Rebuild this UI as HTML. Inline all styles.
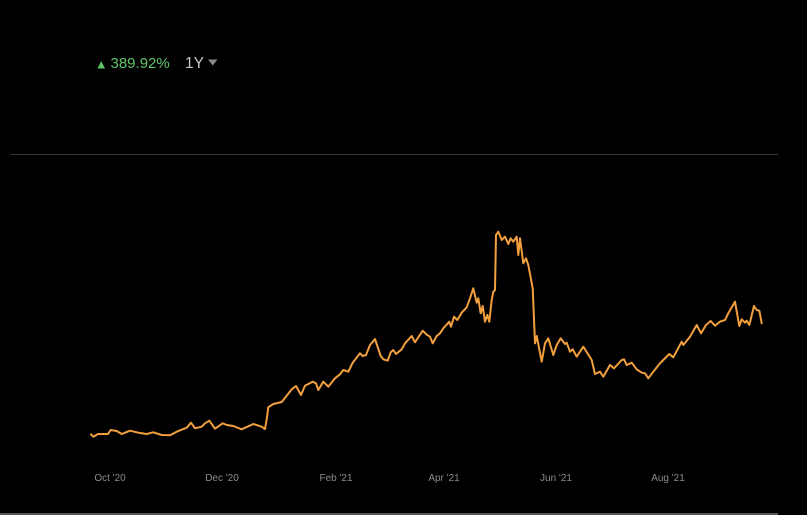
<!DOCTYPE html>
<html>
<head>
<meta charset="utf-8">
<style>
html,body{margin:0;padding:0;background:#000;}
body{width:807px;height:515px;overflow:hidden;position:relative;font-family:"Liberation Sans",sans-serif;}
svg{position:absolute;left:0;top:0;}
</style>
</head>
<body>
<svg width="807" height="515" viewBox="0 0 807 515" xmlns="http://www.w3.org/2000/svg">
  <rect x="0" y="0" width="807" height="515" fill="#000"/>
  <!-- header -->
  <polygon points="97.5,68.5 105,68.5 101.25,61" fill="#5dc466"/>
  <text x="110.5" y="68" font-family="Liberation Sans, sans-serif" font-size="15" fill="#62c46a">389.92%</text>
  <text x="185" y="68" font-family="Liberation Sans, sans-serif" font-size="15.5" fill="#c8c8c8">1Y</text>
  <polygon points="208,59.5 217.5,59.5 212.75,65.5" fill="#8a8a8a"/>
  <!-- separator -->
  <line x1="11" y1="154.5" x2="778" y2="154.5" stroke="#3a3a3a" stroke-width="1"/>
  <!-- bottom line -->
  <line x1="0" y1="514" x2="778" y2="514" stroke="#555" stroke-width="2"/>
  <!-- x labels -->
  <g font-family="Liberation Sans, sans-serif" font-size="10" fill="#8c8c8c" text-anchor="middle">
    <text x="110" y="481">Oct '20</text>
    <text x="222" y="481">Dec '20</text>
    <text x="336" y="481">Feb '21</text>
    <text x="444" y="481">Apr '21</text>
    <text x="556" y="481">Jun '21</text>
    <text x="668" y="481">Aug '21</text>
  </g>
  <!-- series -->
  <polyline fill="none" stroke="#f2a03d" stroke-width="2" stroke-linejoin="round" stroke-linecap="round"
  points="91,434.3 93.3,436.7 98,434 108,434 110.7,430 116.7,431 121.7,434 130,430.7 138.3,432.7 146.7,434 153.3,432.3 161.7,435 170,435.3 176.7,431.7 186.7,427.7 191,422.7 195,428.3 201.7,426.7 205,423.3 209.3,420.7 215,428.7 222.7,423.3 226.7,425 233.3,426 241.7,429.3 253.3,424 261.7,426.7 265,429 266.7,419.3 268.3,407.3 273.3,404 281.7,402 286.7,395.7 291.7,389.3 296,386 301,395 305,385.7 312.7,381.7 316,383.3 318.3,390 323.3,381.7 328.3,386.7 335,378.3 340,374.3 343.3,370 348.3,371.7 352.7,362.7 360,353.3 362.7,356 366,355 370,345 375,339 380.7,356 383.3,359.3 387.7,360.7 390.7,352.3 393.3,350 396,354 401.7,349.3 405,343.3 411.7,336 415,342.3 422.7,330.7 426.7,334.7 430,336.7 432.7,343.3 436.7,336 440,333.3 443.3,328.3 449.3,321.7 451,326.7 454,316.7 457.3,320 461.7,312.7 466.7,307.3 470,298.3 473.3,288.3 476.7,302.7 478.3,298.3 480.7,313.3 482.7,306 485,321.7 487.3,315 489.3,321.7 491.7,300 493.3,291.7 495,290 496,235 498.3,231.7 501.7,240 505,236.7 508.3,244 510.7,238.3 513.3,241.7 516.7,236.7 518.3,255 520,238.3 523.3,263.3 526,258.3 528.3,265 532.7,288.3 535,343.3 536.7,336 541.7,361.7 545,343.3 548.3,338.3 553.3,355 556.7,345 560.7,338.3 565,344 566.7,342.7 570,351.7 572.7,349.3 576.7,356.7 583.3,346.7 591.7,360 595,374 600,371.7 603.3,376.7 610,365 614,368.3 621.7,360 624,359.3 626.7,365 631.7,362.7 636.7,369.3 641.7,372.7 645,373.3 648.3,378.3 653.3,371.7 660,363.3 663.3,360 669.3,354 673.3,357.3 681.7,341.7 683.3,345 690,336.7 696.7,325 701,333.3 706,325 710.7,321 715,325.7 720,321.7 725,320 728.3,313.3 735,301.7 739.3,326 741.7,319.3 745,322.7 746.7,320.7 749.3,325 754,306 756.7,310 759.3,310.7 761.7,323.3"/>
</svg>
</body>
</html>
